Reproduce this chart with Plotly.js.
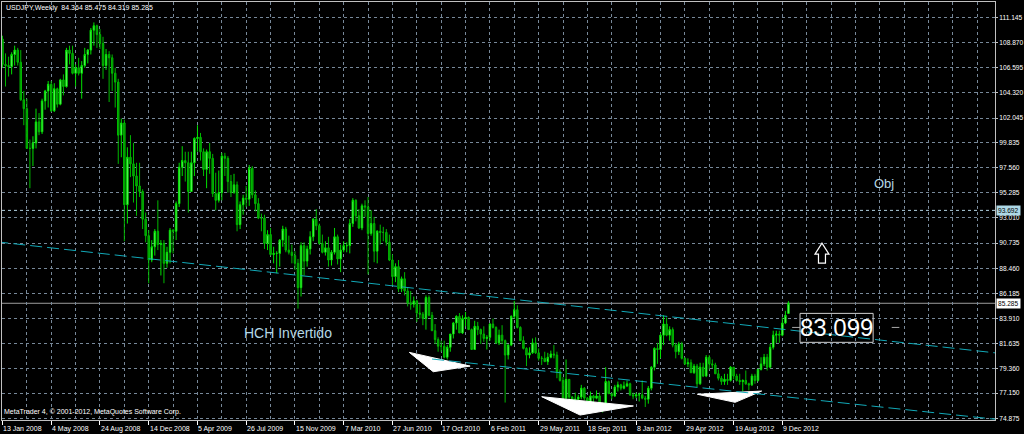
<!DOCTYPE html>
<html>
<head>
<meta charset="utf-8">
<script src="https://cdn.plot.ly/plotly-3.0.1.min.js"></script>
<style>
html,body{margin:0;padding:0;background:#000;}
#chart{width:1024px;height:434px;}
</style>
</head>
<body>
<div id="chart"></div>
<script>
// ---------------- DATA ----------------
const startWeek = '2008-01-13';
const symbolTitle = 'USDJPY,Weekly&nbsp; 84.364 85.475 84.319 85.285';
const copyrightText = 'MetaTrader 4, © 2001-2012, MetaQuotes Software Corp.';

const open = [109.2,106.9,106.8,106.7,107.8,108.2,107.1,103.7,102.9,99.3,
99.3,99.8,101.7,100.8,103.6,104.5,105.1,102.7,104.7,103.3,
105.5,104.9,108.2,107.9,106.1,106.6,106.1,106.8,107.8,108.2,
110.0,110.4,109.6,108.8,106.8,107.8,107.5,106.1,105.3,100.5,
101.6,94.2,98.5,97.9,96.8,95.9,95.4,92.9,91.4,89.2,
90.4,91.8,90.6,90.7,88.9,89.9,91.9,91.8,94.3,97.6,
98.2,98.0,95.4,98.0,100.2,100.3,99.0,97.4,99.0,98.4,
95.2,94.6,95.3,98.6,98.4,96.3,95.3,96.0,92.4,94.2,
94.8,94.7,97.5,95.1,94.3,93.0,93.0,90.7,91.5,89.7,
89.8,89.8,91.0,92.0,90.1,89.9,89.6,88.9,86.7,90.5,
89.1,90.2,91.3,92.9,92.3,90.7,89.9,90.3,89.2,89.9,
91.3,89.3,90.1,90.5,90.5,92.5,94.6,93.2,92.1,94.1,
94.0,91.6,92.5,90.0,91.8,91.7,91.7,90.8,89.2,87.7,
88.6,86.6,87.5,86.4,85.3,85.2,85.5,84.4,84.3,83.9,
85.8,84.2,82.8,82.0,81.4,81.4,80.4,81.3,82.5,83.5,
84.1,82.6,83.9,84.0,82.9,81.1,83.2,82.9,82.5,82.1,
82.2,83.4,83.1,81.7,82.4,81.9,80.6,81.5,84.1,84.7,
83.1,81.9,81.2,80.6,80.8,81.7,80.8,80.3,80.3,80.0,
80.4,80.7,80.6,79.1,78.3,76.7,78.4,76.8,76.5,76.6,
76.8,77.6,76.7,76.3,76.9,76.7,76.9,76.1,75.8,78.2,
77.1,76.9,77.7,77.9,77.6,77.8,78.0,77.0,76.9,77.0,
77.0,76.7,76.6,77.6,79.5,81.2,81.1,82.4,83.4,82.4,
82.9,81.5,80.9,81.6,80.3,79.8,79.9,79.0,79.6,78.0,
79.5,78.7,80.4,79.8,79.7,78.9,78.5,78.2,78.4,78.3,
79.5,78.7,78.3,78.2,78.3,78.0,77.9,78.7,78.3,79.3,
79.8,80.4,79.5,81.3,82.4,82.5,82.4,83.5,84.364];

const high = [109.5,107.9,107.6,108.0,108.6,108.4,108.2,104.5,103.8,100.1,
100.4,102.9,102.5,103.8,104.6,105.4,105.4,105.2,104.8,105.6,
106.0,108.4,108.6,108.6,106.9,107.5,107.2,108.4,108.3,110.2,
110.7,110.5,110.1,109.4,108.3,108.1,107.8,106.6,105.6,102.0,
101.9,99.4,100.5,99.8,98.0,98.0,95.6,93.5,91.9,91.0,
92.0,94.6,91.0,91.0,90.4,92.1,92.0,94.5,98.0,99.5,
99.0,99.0,99.0,100.3,101.4,100.7,99.3,99.2,99.8,98.8,
97.1,97.3,98.9,98.9,98.6,96.9,97.0,96.3,94.5,95.1,
95.9,97.8,97.7,95.5,94.8,93.4,93.3,91.9,92.1,90.4,
90.0,91.1,92.3,92.2,91.4,90.6,90.0,89.3,90.8,90.8,
90.5,91.8,93.0,93.8,92.5,91.5,90.9,91.3,90.1,92.1,
91.5,90.6,90.9,90.8,92.9,94.8,94.7,93.8,94.3,94.6,
94.9,93.7,93.1,91.9,92.4,92.2,92.0,91.5,89.7,88.9,
89.2,87.7,88.1,86.7,86.4,85.9,85.6,85.2,84.5,86.0,
86.0,84.5,83.4,82.2,81.9,81.9,81.5,82.5,83.6,84.2,
84.4,84.2,84.5,84.1,83.0,83.7,83.6,83.0,83.2,82.4,
83.5,83.9,83.2,82.9,83.3,82.0,81.6,84.2,85.5,85.1,
83.2,82.3,81.3,81.3,82.1,82.2,81.2,80.5,80.9,80.8,
81.0,81.5,80.9,79.3,78.6,80.2,78.4,76.9,77.2,77.0,
77.9,77.7,76.8,77.3,77.0,77.4,77.2,76.3,79.5,78.3,
77.2,77.9,78.2,78.0,78.2,78.3,78.1,77.2,77.2,77.2,
78.3,76.9,77.8,79.6,81.3,81.7,82.6,84.2,84.0,83.2,
83.1,81.7,81.8,81.8,80.4,80.3,80.2,79.8,79.8,79.9,
79.9,80.6,80.6,80.2,79.9,79.3,78.7,78.9,78.9,79.6,
79.5,78.9,78.9,78.4,79.2,78.1,78.9,78.9,79.3,80.4,
80.7,80.7,81.6,82.8,82.8,82.8,84.0,84.6,85.475];

const low = [106.6,104.9,105.8,106.0,106.8,106.8,103.6,101.4,99.3,95.7,
97.7,99.3,100.5,100.6,102.8,103.0,102.6,102.6,103.0,103.2,
104.1,104.8,106.9,106.0,104.9,105.9,103.8,106.6,107.0,107.8,
108.6,108.4,108.3,105.6,106.4,103.5,104.5,103.0,97.9,98.5,
90.9,92.5,96.7,94.4,93.2,94.9,92.0,90.8,87.1,89.0,
89.6,90.1,87.8,87.1,88.5,88.9,89.8,91.0,94.0,96.8,
96.3,93.5,95.4,96.8,99.0,98.2,96.8,95.7,97.0,94.9,
93.7,94.4,94.6,96.8,95.3,94.9,95.2,91.8,92.0,93.3,
94.0,94.1,94.8,93.6,92.9,91.8,90.2,90.1,89.6,88.9,
88.0,88.6,90.4,89.9,89.7,88.9,88.3,84.8,85.9,87.8,
88.6,89.7,90.9,91.9,90.6,89.8,89.6,88.6,88.7,89.7,
88.8,88.1,89.9,89.9,89.8,92.2,92.7,92.0,91.9,93.1,
87.9,91.4,89.0,88.9,90.6,90.9,90.5,89.1,86.9,87.2,
86.3,86.3,86.0,85.0,84.7,84.9,83.6,83.9,83.3,82.9,
84.1,82.8,81.6,80.9,80.9,80.3,80.2,80.9,82.1,82.9,
82.6,82.5,83.2,82.9,81.1,81.1,82.4,81.6,81.8,81.1,
81.9,83.0,81.6,81.5,81.6,76.3,80.2,81.4,83.9,83.0,
81.9,81.1,79.6,80.3,80.7,80.7,80.1,79.7,80.0,79.7,
80.3,80.3,78.5,78.2,76.6,76.3,76.3,75.9,75.9,76.4,
76.6,76.5,75.9,76.1,76.3,76.6,75.9,75.4,75.6,77.1,
76.6,76.8,77.3,77.4,77.5,77.7,76.9,76.6,76.7,76.4,
76.6,75.9,76.2,77.4,79.2,79.8,80.3,81.5,82.3,81.9,
81.3,80.3,80.6,80.2,79.7,79.5,79.0,78.9,77.7,77.9,
78.6,78.6,79.3,79.4,78.9,78.3,77.9,77.9,77.9,78.2,
78.4,78.2,77.9,77.3,77.9,77.4,77.8,78.0,78.2,79.2,
79.6,79.2,79.4,81.1,81.7,81.7,82.3,83.4,84.319];

const close = [106.9,106.8,106.7,107.8,108.2,107.1,103.7,102.9,99.3,99.3,
99.8,101.7,100.8,103.6,104.5,105.1,102.7,104.7,103.3,105.5,
104.9,108.2,107.9,106.1,106.6,106.1,106.8,107.8,108.2,110.0,
110.4,109.6,108.8,106.8,107.8,107.5,106.1,105.3,100.5,101.6,
94.2,98.5,97.9,96.8,95.9,95.4,92.9,91.4,89.2,90.4,
91.8,90.6,90.7,88.9,89.9,91.9,91.8,94.3,97.6,98.2,
98.0,95.4,98.0,100.2,100.3,99.0,97.4,99.0,98.4,95.2,
94.6,95.3,98.6,98.4,96.3,95.3,96.0,92.4,94.2,94.8,
94.7,97.5,95.1,94.3,93.0,93.0,90.7,91.5,89.7,89.8,
89.8,91.0,92.0,90.1,89.9,89.6,88.9,86.7,90.5,89.1,
90.2,91.3,92.9,92.3,90.7,89.9,90.3,89.2,89.9,91.3,
89.3,90.1,90.5,90.5,92.5,94.6,93.2,92.1,94.1,94.0,
91.6,92.5,90.0,91.8,91.7,91.7,90.8,89.2,87.7,88.6,
86.6,87.5,86.4,85.3,85.2,85.5,84.4,84.3,83.9,85.8,
84.2,82.8,82.0,81.4,81.4,80.4,81.3,82.5,83.5,84.1,
82.6,83.9,84.0,82.9,81.1,83.2,82.9,82.5,82.1,82.2,
83.4,83.1,81.7,82.4,81.9,80.6,81.5,84.1,84.7,83.1,
81.9,81.2,80.6,80.8,81.7,80.8,80.3,80.3,80.0,80.4,
80.7,80.6,79.1,78.3,76.7,78.4,76.8,76.5,76.6,76.8,
77.6,76.7,76.3,76.9,76.7,76.9,76.1,75.8,78.2,77.1,
76.9,77.7,77.9,77.6,77.8,78.0,77.0,76.9,77.0,77.0,
76.7,76.6,77.6,79.5,81.2,81.1,82.4,83.4,82.4,82.9,
81.5,80.9,81.6,80.3,79.8,79.9,79.0,79.6,78.0,79.5,
78.7,80.4,79.8,79.7,78.9,78.5,78.2,78.4,78.3,79.5,
78.7,78.3,78.2,78.3,78.0,77.9,78.7,78.3,79.3,79.8,
80.4,79.5,81.3,82.4,82.5,82.4,83.5,84.2,85.285];

// bottom time labels (every 16 weekly bars)
const xTickDates = ['2008-01-13','2008-05-04','2008-08-24','2008-12-14','2009-04-05','2009-07-26',
  '2009-11-15','2010-03-07','2010-06-27','2010-10-17','2011-02-06','2011-05-29','2011-09-18',
  '2012-01-08','2012-04-29','2012-08-19','2012-12-09'];
const xTickLabels = ['13 Jan 2008','4 May 2008','24 Aug 2008','14 Dec 2008','5 Apr 2009','26 Jul 2009',
  '15 Nov 2009','7 Mar 2010','27 Jun 2010','17 Oct 2010','6 Feb 2011','29 May 2011','18 Sep 2011',
  '8 Jan 2012','29 Apr 2012','19 Aug 2012','9 Dec 2012'];

// right price scale labels
const yTickLabels = ['111.145','108.870','106.595','104.320','102.045','99.835','97.560','95.285',
  '93.010','90.735','88.460','86.185','83.910','81.635','79.360','77.150','74.875'];

// drawn objects (week index from first bar, price)
const channelUpperWeek = [-2, 330];
const channelUpperPrice = [90.85, 80.67];
const channelLowerWeek = [141.0, 330];
const channelLowerPrice = [80.24, 74.67];
const triangleWeeks = [[133.55, 153.5, 141.4], [177.0, 207.1, 189.6], [228.1, 249.2, 240.5]];
const trianglePrices = [[80.84, 79.60, 79.09], [76.83, 75.99, 75.17], [77.05, 77.34, 76.32]];
const targetLevel = 93.692;
const bidLevel = 85.285;
const priceLabelValue = 83.099;
const textHCH = 'HCH Invertido';
const textObj = 'Obj';

// ---------------- HELPERS ----------------
const WEEK = 7 * 86400000;
const t0 = Date.parse(startWeek + 'T00:00:00Z');
function wk(i) {
  const iso = new Date(t0 + i * WEEK).toISOString();
  return iso.replace('T', ' ').replace('Z', '');
}
const dates = open.map((_, i) => wk(i).slice(0, 10));

const FONT = 'Liberation Sans, Arial, sans-serif';
const GRID = '#778899';
const LABEL_BLUE = '#add8e6';

// ---------------- TRACES ----------------
const traces = [];

triangleWeeks.forEach((tw, k) => {
  traces.push({
    type: 'scatter', mode: 'lines', fill: 'toself',
    x: tw.map(wk).concat([wk(tw[0])]),
    y: trianglePrices[k].concat([trianglePrices[k][0]]),
    fillcolor: '#ffffff', line: {color: '#ffffff', width: 1},
    hoverinfo: 'skip', showlegend: false
  });
});

traces.push({
  type: 'candlestick', x: dates, open: open, high: high, low: low, close: close,
  increasing: {line: {color: '#00e000', width: 1}, fillcolor: '#8cff8c'},
  decreasing: {line: {color: '#00b800', width: 1}, fillcolor: '#009000'},
  whiskerwidth: 0, hoverinfo: 'skip', showlegend: false
});

traces.push({
  type: 'scatter', mode: 'lines',
  x: channelUpperWeek.map(wk), y: channelUpperPrice,
  line: {color: '#12a9b8', width: 1, dash: '12px,5px'},
  hoverinfo: 'skip', showlegend: false
});
traces.push({
  type: 'scatter', mode: 'lines',
  x: channelLowerWeek.map(wk), y: channelLowerPrice,
  line: {color: '#12a9b8', width: 1, dash: '12px,5px'},
  hoverinfo: 'skip', showlegend: false
});

// ---------------- LAYOUT ----------------
const annotations = [];
xTickDates.forEach((d, k) => {
  annotations.push({
    xref: 'x', yref: 'paper', x: d, y: 0, xanchor: 'left', yanchor: 'middle',
    xshift: -1, yshift: -8.5, showarrow: false, text: xTickLabels[k],
    font: {family: FONT, size: 7, color: '#ffffff'}
  });
});
annotations.push({
  xref: 'paper', yref: 'paper', x: 0, y: 1, xanchor: 'left', yanchor: 'middle',
  xshift: 2, yshift: -6, showarrow: false, text: symbolTitle,
  font: {family: FONT, size: 7, color: '#ffffff'}
});
annotations.push({
  xref: 'paper', yref: 'paper', x: 0, y: 0, xanchor: 'left', yanchor: 'middle',
  xshift: 0, yshift: 8, showarrow: false, text: copyrightText,
  font: {family: FONT, size: 7, color: '#ffffff'}
});
annotations.push({
  xref: 'paper', yref: 'y', x: 1, y: targetLevel, xanchor: 'left', yanchor: 'middle',
  xshift: 1, showarrow: false, text: targetLevel.toFixed(3), bgcolor: LABEL_BLUE, borderpad: 1,
  font: {family: FONT, size: 6.6, color: '#000000'}
});
annotations.push({
  xref: 'paper', yref: 'y', x: 1, y: bidLevel, xanchor: 'left', yanchor: 'middle',
  xshift: 1, showarrow: false, text: bidLevel.toFixed(3), bgcolor: '#ffffff', borderpad: 1,
  font: {family: FONT, size: 6.6, color: '#000000'}
});
annotations.push({
  xref: 'x', yref: 'y', x: wk(78.6), y: 82.6, xanchor: 'left', yanchor: 'middle',
  showarrow: false, text: textHCH,
  font: {family: FONT, size: 14, color: '#b4d8e6'}
});
annotations.push({
  xref: 'x', yref: 'y', x: wk(285.4), y: 96.15, xanchor: 'left', yanchor: 'middle',
  showarrow: false, text: textObj,
  font: {family: FONT, size: 13, color: '#b4d8e6'}
});
annotations.push({
  xref: 'x', yref: 'y', x: wk(273.8), y: priceLabelValue, xanchor: 'center', yanchor: 'middle',
  yshift: 0, showarrow: false, text: priceLabelValue.toFixed(3),
  font: {family: FONT, size: 24, color: '#ffffff'}
});

const shapes = [
  {type: 'line', xref: 'paper', yref: 'y', x0: 0, x1: 1, y0: targetLevel, y1: targetLevel,
   line: {color: '#b0d0e0', width: 1, dash: '3px,3px'}, layer: 'between'},
  {type: 'line', xref: 'paper', yref: 'y', x0: 0, x1: 1, y0: bidLevel, y1: bidLevel,
   line: {color: '#9c9c9c', width: 1}, layer: 'between'},
  {type: 'rect', xref: 'x', yref: 'y', x0: wk(261.8), x1: wk(285.8), y0: 81.75, y1: 84.37,
   line: {color: '#d0d0d0', width: 1}, fillcolor: 'rgba(0,0,0,0)', layer: 'above'},
  {type: 'line', xref: 'x', yref: 'y', x0: wk(259.2), x1: wk(261.8), y0: priceLabelValue, y1: priceLabelValue,
   line: {color: '#a8a8a8', width: 1}},
  {type: 'line', xref: 'x', yref: 'y', x0: wk(291.9), x1: wk(294.4), y0: priceLabelValue, y1: priceLabelValue,
   line: {color: '#a8a8a8', width: 1}},
  {type: 'path', xref: 'x', yref: 'y', xsizemode: 'pixel', ysizemode: 'pixel',
   xanchor: wk(269.0), yanchor: 89.78,
   path: 'M -3.5 -9.5 L -3.5 -0.5 L -7 -0.5 L 0 10.5 L 7 -0.5 L 3.5 -0.5 L 3.5 -9.5 Z',
   line: {color: '#ffffff', width: 1.2}, fillcolor: 'rgba(0,0,0,0)'}
];

const layout = {
  width: 1024, height: 434,
  margin: {l: 2, r: 29, t: 2, b: 14, pad: 0},
  paper_bgcolor: '#000000', plot_bgcolor: '#000000',
  font: {family: FONT, size: 7, color: '#ffffff'},
  showlegend: false,
  xaxis: {
    type: 'date', range: [wk(-0.16), wk(325.8)],
    rangeslider: {visible: false},
    tickmode: 'array', tickvals: xTickDates, ticktext: xTickDates.map(() => ''),
    showticklabels: false, ticks: 'outside', ticklen: 4, tickcolor: '#ffffff', tickwidth: 1,
    showgrid: false, zeroline: false,
    showline: true, mirror: true, linecolor: '#c0c0c0', linewidth: 1,
    minor: {tick0: startWeek, dtick: 8 * WEEK, showgrid: true, gridcolor: GRID,
            griddash: '3px,3px', gridwidth: 1, ticks: ''},
    automargin: false, fixedrange: true
  },
  yaxis: {
    side: 'right', range: [74.721, 112.55],
    tickmode: 'array', tickvals: yTickLabels.map(Number), ticktext: yTickLabels,
    ticks: 'outside', ticklen: 2, tickcolor: '#c0c0c0',
    tickfont: {family: FONT, size: 6.6, color: '#ffffff'},
    showgrid: true, gridcolor: GRID, griddash: '3px,3px', gridwidth: 1,
    zeroline: false, showline: true, mirror: true, linecolor: '#c0c0c0', linewidth: 1,
    automargin: false, fixedrange: true
  },
  annotations: annotations,
  shapes: shapes
};

Plotly.newPlot('chart', traces, layout, {staticPlot: true, displayModeBar: false});
</script>
</body>
</html>
